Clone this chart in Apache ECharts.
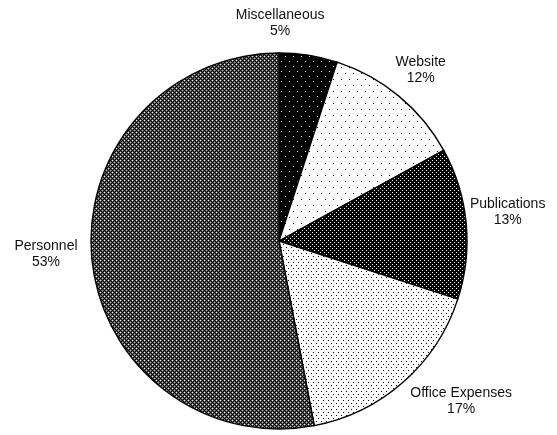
<!DOCTYPE html>
<html>
<head>
<meta charset="utf-8">
<script src="https://cdn.jsdelivr.net/npm/echarts@6/dist/echarts.min.js"></script>
<style>
  html, body { margin: 0; padding: 0; background: #fff; }
  #chart { width: 557px; height: 435px; }
</style>
</head>
<body>
<div id="chart"></div>
<script>
// budget share, clockwise from 12 o'clock
var categories = ['Miscellaneous', 'Website', 'Publications', 'Office Expenses', 'Personnel'];
var shares = [5, 12, 13, 17, 53];

var cx = 279, cy = 241, R = 188;

// small bitmap fills, like the old office fill patterns
function tile(w, h, bg, dots) {
  var c = document.createElement('canvas');
  c.width = w; c.height = h;
  var ctx = c.getContext('2d');
  ctx.fillStyle = bg;
  ctx.fillRect(0, 0, w, h);
  dots.forEach(function (d) {
    ctx.fillStyle = d[2];
    ctx.fillRect(d[0], d[1], 1, 1);
  });
  return c;
}

function crossHatch() {
  var dots = [];
  for (var y = 0; y < 4; y++) {
    for (var x = 0; x < 4; x++) {
      if ((x + y) % 2 === 1) dots.push([x, y, '#5a5a5a']);
    }
  }
  dots.push([0, 0, '#f0f0f0']);
  dots.push([2, 2, '#b0b0b0']);
  return tile(4, 4, '#000', dots);
}

var fills = [
  tile(8, 10, '#000', [[1, 1, '#fff'], [5, 6, '#fff']]),
  tile(8, 12, '#fff', [[1, 1, '#000'], [5, 7, '#000']]),
  tile(4, 4, '#000', [[0, 0, '#fff'], [2, 2, '#fff']]),
  tile(5, 6, '#fff', [[1, 1, '#000'], [3, 4, '#000']]),
  crossHatch()
];

// mid angle of each slice (radians, clockwise from top)
var total = shares.reduce(function (a, b) { return a + b; }, 0);
var midAngles = [];
var acc = 0;
shares.forEach(function (v) {
  midAngles.push((acc + v / 2) / total * Math.PI * 2);
  acc += v;
});
var angleNudge = [-0.152, 0, -0.03, -0.126, 0.04];
var gap = [14, 6, 3, 6, 13];

var chart = echarts.init(document.getElementById('chart'), null, { renderer: 'canvas' });

chart.setOption({
  animation: false,
  backgroundColor: '#fff',
  series: [{
    type: 'pie',
    center: [cx, cy],
    radius: R,
    startAngle: 90,
    clockwise: true,
    data: categories.map(function (name, i) {
      return {
        name: name,
        value: shares[i],
        itemStyle: { color: { image: fills[i], repeat: 'repeat' } }
      };
    }),
    itemStyle: { borderColor: '#000', borderWidth: 1.4 },
    emphasis: { disabled: true },
    label: {
      show: true,
      position: 'outside',
      overflow: 'none',
      formatter: function (p) { return p.name + '\n' + p.value + '%'; },
      fontFamily: 'Liberation Sans, Arial, sans-serif',
      fontSize: 14,
      lineHeight: 16,
      color: '#111',
      align: 'center'
    },
    labelLine: { show: false },
    labelLayout: function (p) {
      var i = p.dataIndex;
      var a = midAngles[i] + angleNudge[i];
      var w = p.labelRect.width, h = p.labelRect.height;
      var d = R + gap[i] + Math.abs(Math.sin(a)) * w / 2 + Math.abs(Math.cos(a)) * h / 2;
      return {
        x: cx + d * Math.sin(a),
        y: cy - d * Math.cos(a),
        align: 'center',
        verticalAlign: 'middle'
      };
    }
  }]
});
</script>
</body>
</html>
